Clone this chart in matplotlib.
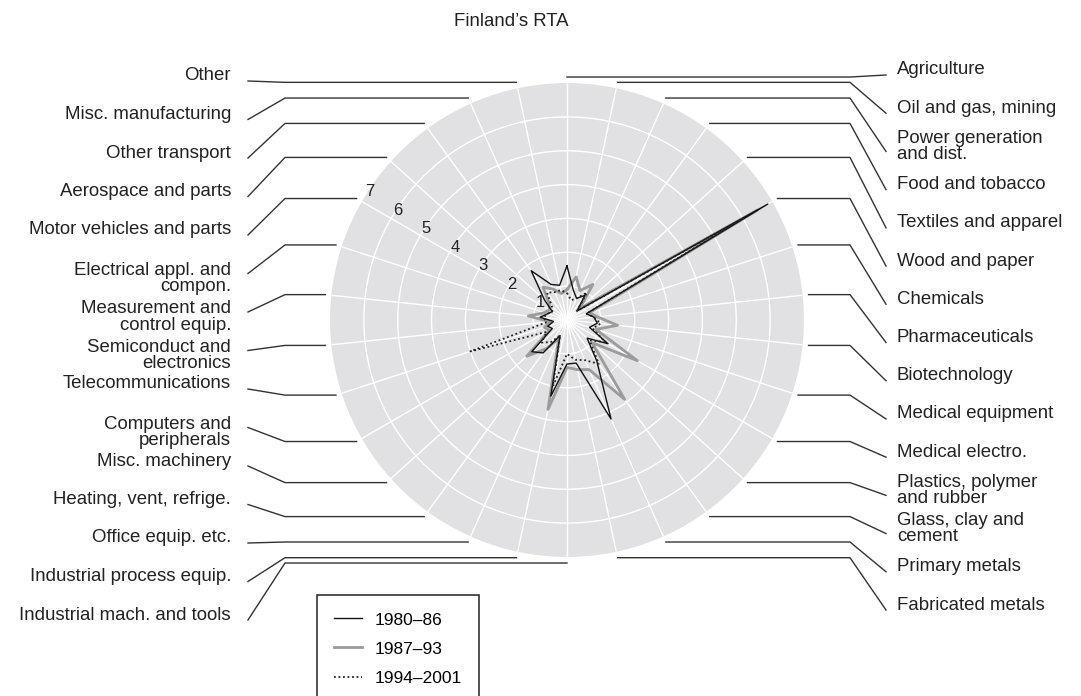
import matplotlib.pyplot as plt
import numpy as np
from matplotlib.lines import Line2D

plt.rcParams['font.family'] = ['Liberation Sans', 'DejaVu Sans']

sectors = [
    'Agriculture', 'Oil and gas, mining', 'Power generation\nand dist.',
    'Food and tobacco', 'Textiles and apparel', 'Wood and paper',
    'Chemicals', 'Pharmaceuticals', 'Biotechnology', 'Medical equipment',
    'Medical electro.', 'Plastics, polymer\nand rubber',
    'Glass, clay and\ncement', 'Primary metals', 'Fabricated metals',
    'Industrial mach. and tools', 'Industrial process equip.',
    'Office equip. etc.', 'Heating, vent, refrige.', 'Misc. machinery',
    'Computers and\nperipherals', 'Telecommunications',
    'Semiconduct and\nelectronics', 'Measurement and\ncontrol equip.',
    'Electrical appl. and\ncompon.', 'Motor vehicles and parts',
    'Aerospace and parts', 'Other transport', 'Misc. manufacturing', 'Other',
]

rta_1980_86 = [1.6, 0.9, 0.7, 0.9, 0.4, 6.85, 0.6, 0.8, 0.9, 0.7,
               1.4, 0.8, 1.5, 3.2, 1.3, 1.3, 2.3, 0.5, 1.2, 1.4,
               0.5, 0.6, 0.4, 0.8, 0.6, 0.5, 0.9, 1.8, 1.15, 1.05]
rta_1987_93 = [0.9, 1.3, 0.95, 1.3, 0.5, 6.5, 0.7, 0.9, 1.5, 0.9,
               2.4, 1.0, 2.9, 1.6, 1.5, 1.4, 2.7, 0.6, 1.05, 1.6,
               0.6, 0.7, 0.5, 1.15, 0.7, 0.6, 0.7, 1.2, 1.0, 0.8]
rta_1994_2001 = [0.8, 0.6, 0.7, 1.0, 0.4, 6.0, 0.6, 0.8, 1.0, 0.8,
                 1.3, 0.9, 1.6, 1.3, 1.2, 1.0, 2.0, 0.5, 0.8, 1.0,
                 0.7, 3.0, 0.6, 0.7, 0.6, 0.5, 0.6, 1.0, 0.9, 0.9]
periods = ['1980\u201386', '1987\u201393', '1994\u20132001']
r_ticks = [1, 2, 3, 4, 5, 6, 7]

W, H = 1081, 696
fig = plt.figure(figsize=(W / 100, H / 100), dpi=100)
ax = fig.add_axes([0.3053, 0.1997, 0.4384, 0.681], projection='polar')
ax.set_theta_zero_location('N')
ax.set_theta_direction(-1)

n = len(sectors)
theta = np.arange(n) * 2 * np.pi / n
ax.set_facecolor('#e1e1e3')
ax.spines['polar'].set_visible(False)
ax.set_xticks(theta)
ax.set_yticks(r_ticks[:-1])
ax.set_xticklabels([])
ax.set_yticklabels([])
ax.tick_params(length=0)
ax.grid(color='white', lw=1.0)
ax.set_ylim(0, r_ticks[-1])

for k in r_ticks:
    ax.text(np.deg2rad(303), k - 0.05, str(k), ha='center', va='center',
            fontsize=12, color='#222222')

styles = [
    dict(color='#9b9b9b', lw=2.0, ls='-'),
    dict(color='#111111', lw=1.0, ls='-'),
    dict(color='#222222', lw=1.3, ls=(0, (1, 1.5))),
]
series = [rta_1987_93, rta_1980_86, rta_1994_2001]
labels = [periods[1], periods[0], periods[2]]
handles = {}
for vals, st, lab in zip(series, styles, labels):
    t = np.append(theta, theta[0])
    v = np.append(vals, vals[0])
    handles[lab], = ax.plot(t, v, label=lab, **st)

# leader lines from the rim out to the sector names
to_fig = fig.transFigure.inverted()
r_lead = r_ticks[-1] * 243 / 237
half = n // 2
for i, name in enumerate(sectors):
    px, py = ax.transData.transform((theta[i], r_lead))
    sx, sy = to_fig.transform((px, py))
    if i < half:
        y_end = 75 + i * (610 - 75) / (half - 1)
        kx, ex, tx = 850, 886, 897
        ha = 'left'
        y_txt = y_end - 5
    else:
        j = n - 1 - i
        y_end = 81 + j * (620 - 81) / (half - 1)
        kx, ex, tx = 285, 248, 231
        ha = 'right'
        y_txt = y_end + 5 if '\n' in name else y_end - 5
    xs = [sx, kx / W, ex / W]
    ys = [sy, sy, 1 - y_end / H]
    fig.add_artist(Line2D(xs, ys, transform=fig.transFigure,
                          color='#333333', lw=1.0))
    fig.text(tx / W, 1 - y_txt / H, name, ha=ha, va='center',
             fontsize=13.4, linespacing=0.95, color='#222222')

fig.text(511 / W, 1 - 21 / H, 'Finland\u2019s RTA', ha='center', va='center',
         fontsize=13.4, color='#222222')

leg = fig.legend([handles[p] for p in periods], periods, loc='upper left',
                 bbox_to_anchor=(317 / W, 1 - 595 / H), frameon=True,
                 fancybox=False, edgecolor='black', borderaxespad=0,
                 fontsize=12.5, handlelength=1.6, handletextpad=0.7,
                 labelspacing=0.8, borderpad=1.0)
leg.get_frame().set_linewidth(1.2)

fig.savefig('out.png', dpi=100)
